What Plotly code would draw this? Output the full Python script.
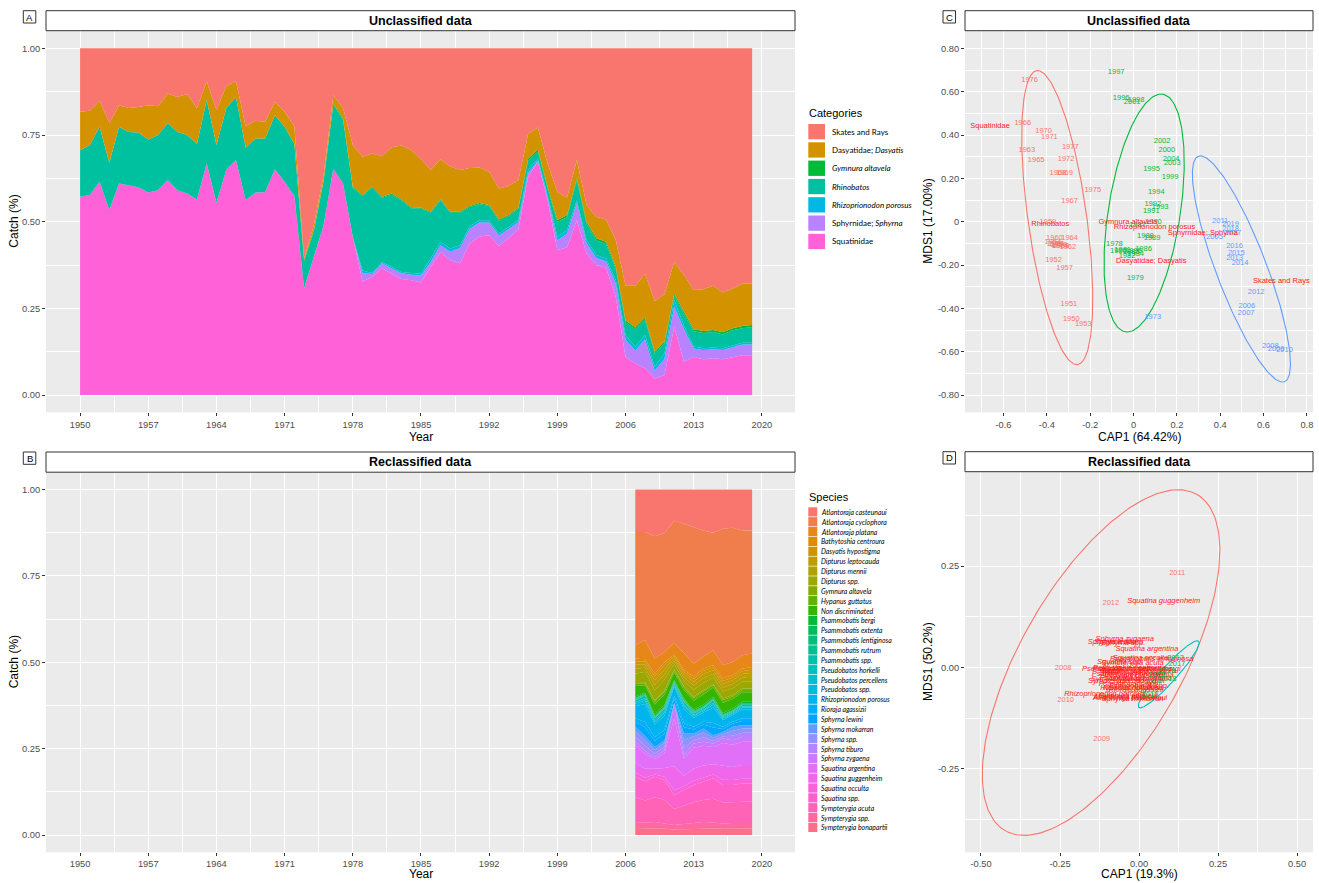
import math
import numpy as np
import plotly.graph_objects as go

W, H = 1319, 883
FONT = "Liberation Sans, Arial, Helvetica, sans-serif"
LEGFONT = "Lato, Liberation Sans, Arial, sans-serif"

# ---------------- Panel A : unclassified data (share of catch) ----------------
years_a = list(range(1950, 2020))
cat_names = ["Skates and Rays", "Dasyatidae; Dasyatis", "Gymnura altavela", "Rhinobatos",
             "Rhizoprionodon porosus", "Sphyrnidae; Sphyrna", "Squatinidae"]
cat_labels = ["Skates and Rays", "Dasyatidae; <i>Dasyatis</i>", "<i>Gymnura altavela</i>",
              "<i>Rhinobatos</i>", "<i>Rhizoprionodon porosus</i>", "Sphyrnidae; <i>Sphyrna</i>",
              "Squatinidae"]
skates_rays = [0.183, 0.180, 0.152, 0.215, 0.164, 0.172, 0.169, 0.164, 0.167, 0.130,
               0.140, 0.132, 0.173, 0.096, 0.178, 0.109, 0.095, 0.225, 0.209, 0.212,
               0.154, 0.183, 0.225, 0.606, 0.510, 0.366, 0.135, 0.173, 0.279, 0.313,
               0.303, 0.311, 0.285, 0.280, 0.293, 0.320, 0.351, 0.320, 0.341, 0.351,
               0.345, 0.344, 0.356, 0.404, 0.397, 0.380, 0.247, 0.228, 0.332, 0.414,
               0.430, 0.322, 0.452, 0.486, 0.494, 0.553, 0.685, 0.685, 0.651, 0.729,
               0.709, 0.616, 0.654, 0.697, 0.695, 0.685, 0.704, 0.693, 0.678, 0.678]
dasyatidae = [0.111, 0.099, 0.074, 0.115, 0.062, 0.069, 0.074, 0.099, 0.083, 0.085,
              0.101, 0.118, 0.103, 0.053, 0.101, 0.064, 0.045, 0.061, 0.051, 0.048,
              0.039, 0.043, 0.051, 0.004, 0.014, 0.014, 0.024, 0.029, 0.120, 0.110,
              0.096, 0.117, 0.134, 0.156, 0.165, 0.140, 0.120, 0.115, 0.130, 0.120,
              0.110, 0.102, 0.096, 0.090, 0.084, 0.079, 0.071, 0.064, 0.067, 0.081,
              0.051, 0.053, 0.048, 0.062, 0.064, 0.077, 0.099, 0.120, 0.125, 0.146,
              0.137, 0.091, 0.106, 0.113, 0.120, 0.127, 0.115, 0.114, 0.123, 0.120]
gymnura_a = [0, 0, 0, 0, 0, 0, 0, 0, 0, 0,
             0, 0, 0, 0, 0, 0, 0, 0, 0, 0,
             0, 0, 0, 0.004, 0.004, 0.004, 0.004, 0.004, 0.003, 0.003,
             0.003, 0.003, 0.003, 0.003, 0.003, 0.003, 0.003, 0.003, 0.003, 0.003,
             0.003, 0.003, 0.003, 0.003, 0.003, 0.003, 0.006, 0.006, 0.006, 0.006,
             0.006, 0.006, 0.006, 0.006, 0.006, 0.006, 0.006, 0.006, 0.006, 0.006,
             0.006, 0.006, 0.006, 0.006, 0.006, 0.006, 0.006, 0.006, 0.006, 0.006]
rhinobatos = [0.134, 0.144, 0.159, 0.136, 0.164, 0.155, 0.158, 0.153, 0.159, 0.165,
              0.168, 0.169, 0.160, 0.183, 0.167, 0.178, 0.182, 0.152, 0.156, 0.155,
              0.156, 0.159, 0.150, 0.078, 0.073, 0.126, 0.184, 0.184, 0.142, 0.215,
              0.246, 0.185, 0.209, 0.206, 0.187, 0.187, 0.132, 0.120, 0.103, 0.094,
              0.055, 0.047, 0.041, 0.037, 0.031, 0.032, 0.027, 0.020, 0.018, 0.042,
              0.037, 0.057, 0.047, 0.042, 0.042, 0.032, 0.037, 0.049, 0.045, 0.037,
              0.028, 0.013, 0.034, 0.044, 0.044, 0.045, 0.040, 0.043, 0.042, 0.045]
rhizoprionodon = [0, 0, 0, 0, 0, 0, 0, 0, 0, 0,
                  0, 0, 0, 0, 0, 0, 0, 0, 0, 0,
                  0, 0, 0, 0, 0, 0, 0, 0, 0, 0.008,
                  0.003, 0.004, 0.004, 0.004, 0.005, 0.005, 0.010, 0.010, 0.010, 0.008,
                  0.007, 0.006, 0.006, 0.006, 0.007, 0.007, 0.009, 0.006, 0.007, 0.011,
                  0.011, 0.008, 0.009, 0.009, 0.008, 0.010, 0.013, 0.012, 0.013, 0.012,
                  0.015, 0.019, 0.010, 0.006, 0.005, 0.005, 0.005, 0.005, 0.005, 0.005]
sphyrnidae = [0, 0, 0, 0, 0, 0, 0, 0, 0, 0,
              0, 0, 0, 0, 0, 0, 0, 0, 0, 0,
              0, 0, 0, 0, 0, 0, 0, 0, 0, 0.024,
              0.008, 0.015, 0.015, 0.016, 0.016, 0.020, 0.014, 0.021, 0.024, 0.044,
              0.043, 0.041, 0.037, 0.030, 0.026, 0.021, 0.010, 0.003, 0.008, 0.028,
              0.039, 0.049, 0.030, 0.020, 0.019, 0.039, 0.050, 0.037, 0.083, 0.022,
              0.048, 0.058, 0.094, 0.024, 0.027, 0.026, 0.027, 0.029, 0.031, 0.031]
squatinidae = [0.572, 0.577, 0.615, 0.534, 0.610, 0.604, 0.599, 0.584, 0.591, 0.620,
               0.591, 0.581, 0.564, 0.668, 0.554, 0.649, 0.678, 0.562, 0.584, 0.585,
               0.651, 0.615, 0.574, 0.308, 0.399, 0.490, 0.653, 0.610, 0.456, 0.327,
               0.341, 0.365, 0.350, 0.335, 0.331, 0.325, 0.370, 0.411, 0.389, 0.380,
               0.437, 0.457, 0.461, 0.430, 0.452, 0.478, 0.630, 0.673, 0.562, 0.418,
               0.426, 0.505, 0.408, 0.375, 0.367, 0.283, 0.110, 0.091, 0.077, 0.048,
               0.057, 0.197, 0.096, 0.110, 0.103, 0.106, 0.103, 0.110, 0.115, 0.115]

# ---------------- Panel B : reclassified data (share of catch) ----------------
years_b = list(range(2007, 2020))
species = ["Atlantoraja casteunaui", "Atlantoraja cyclophora", "Atlantoraja platana",
           "Bathytoshia centroura", "Dasyatis hypostigma", "Dipturus leptocauda",
           "Dipturus mennii", "Dipturus spp.", "Gymnura altavela", "Hypanus guttatus",
           "Non discriminated", "Psammobatis bergi", "Psammobatis extenta",
           "Psammobatis lentiginosa", "Psammobatis rutrum", "Psammobatis spp.",
           "Pseudobatos horkelli", "Pseudobatos percellens", "Pseudobatos spp.",
           "Rhizoprionodon porosus", "Rioraja agassizii", "Sphyrna lewini",
           "Sphyrna mokarran", "Sphyrna spp.", "Sphyrna tiburo", "Sphyrna zygaena",
           "Squatina argentina", "Squatina guggenheim", "Squatina occulta",
           "Squatina spp.", "Sympterygia acuta", "Sympterygia spp.", "Sympterygia bonapartii"]
atl_casteunaui = [0.123, 0.122, 0.135, 0.126, 0.090, 0.099, 0.109, 0.119, 0.125, 0.114, 0.111, 0.119, 0.119]
atl_cyclophora = [0.328, 0.310, 0.354, 0.344, 0.356, 0.376, 0.395, 0.365, 0.340, 0.395, 0.388, 0.361, 0.356]
atl_platana = [0.038, 0.055, 0.044, 0.029, 0.034, 0.048, 0.038, 0.034, 0.044, 0.038, 0.038, 0.038, 0.039]
bat_centroura = [0.008, 0.006, 0.008, 0.009, 0.005, 0.006, 0.007, 0.007, 0.006, 0.007, 0.007, 0.007, 0.008]
das_hypostigma = [0.010, 0.008, 0.011, 0.012, 0.006, 0.007, 0.008, 0.009, 0.008, 0.008, 0.008, 0.008, 0.009]
dip_leptocauda = [0.012, 0.010, 0.014, 0.015, 0.008, 0.009, 0.011, 0.012, 0.010, 0.011, 0.011, 0.011, 0.011]
dip_mennii = [0.014, 0.012, 0.016, 0.016, 0.009, 0.010, 0.012, 0.013, 0.011, 0.012, 0.012, 0.012, 0.013]
dip_spp = [0.024, 0.030, 0.028, 0.030, 0.015, 0.016, 0.020, 0.022, 0.018, 0.020, 0.020, 0.020, 0.021]
gym_altavela = [0.004, 0.003, 0.004, 0.004, 0.003, 0.003, 0.004, 0.004, 0.004, 0.004, 0.004, 0.004, 0.004]
hyp_guttatus = [0.008, 0.006, 0.008, 0.008, 0.006, 0.007, 0.007, 0.008, 0.007, 0.008, 0.007, 0.007, 0.007]
non_discriminated = [0.030, 0.021, 0.030, 0.030, 0.022, 0.025, 0.027, 0.030, 0.027, 0.030, 0.028, 0.027, 0.027]
psa_bergi = [0.004, 0.003, 0.004, 0.004, 0.003, 0.003, 0.004, 0.004, 0.004, 0.004, 0.004, 0.004, 0.004]
psa_extenta = [0.002, 0.001, 0.002, 0.002, 0.001, 0.002, 0.002, 0.002, 0.002, 0.002, 0.002, 0.002, 0.002]
psa_lentiginosa = [0.002, 0.001, 0.002, 0.002, 0.001, 0.002, 0.002, 0.002, 0.002, 0.002, 0.001, 0.001, 0.001]
psa_rutrum = [0.002, 0.002, 0.002, 0.002, 0.002, 0.002, 0.002, 0.002, 0.001, 0.002, 0.002, 0.002, 0.002]
psa_spp = [0.001, 0.001, 0.001, 0.001, 0.001, 0.001, 0.001, 0.001, 0.001, 0.001, 0.001, 0.001, 0.001]
pse_horkelli = [0.006, 0.008, 0.006, 0.007, 0.004, 0.007, 0.004, 0.004, 0.007, 0.003, 0.003, 0.004, 0.004]
pse_percellens = [0.004, 0.006, 0.004, 0.005, 0.003, 0.005, 0.003, 0.003, 0.005, 0.002, 0.002, 0.003, 0.003]
pse_spp = [0.007, 0.010, 0.007, 0.008, 0.005, 0.008, 0.005, 0.005, 0.009, 0.004, 0.004, 0.005, 0.005]
rhi_porosus = [0.035, 0.052, 0.037, 0.041, 0.026, 0.041, 0.026, 0.026, 0.045, 0.020, 0.019, 0.026, 0.026]
rio_agassizii = [0.010, 0.015, 0.011, 0.012, 0.008, 0.012, 0.008, 0.008, 0.013, 0.006, 0.006, 0.008, 0.008]
sph_lewini = [0.015, 0.025, 0.017, 0.019, 0.012, 0.018, 0.012, 0.012, 0.022, 0.009, 0.009, 0.012, 0.012]
sph_mokarran = [0.012, 0.012, 0.008, 0.008, 0.002, 0.018, 0.008, 0.011, 0.007, 0.005, 0.011, 0.010, 0.010]
sph_spp = [0.016, 0.016, 0.011, 0.011, 0.002, 0.024, 0.011, 0.014, 0.009, 0.007, 0.015, 0.012, 0.012]
sph_tiburo = [0.015, 0.015, 0.010, 0.010, 0.001, 0.021, 0.010, 0.013, 0.008, 0.007, 0.013, 0.012, 0.012]
sph_zygaena = [0.010, 0.008, 0.006, 0.008, 0.040, 0.010, 0.012, 0.012, 0.010, 0.013, 0.013, 0.014, 0.014]
squ_argentina = [0.050, 0.043, 0.028, 0.043, 0.140, 0.050, 0.060, 0.057, 0.050, 0.066, 0.064, 0.067, 0.067]
squ_guggenheim = [0.030, 0.026, 0.017, 0.025, 0.070, 0.030, 0.036, 0.035, 0.030, 0.040, 0.038, 0.040, 0.040]
squ_occulta = [0.011, 0.010, 0.006, 0.010, 0.014, 0.011, 0.012, 0.012, 0.011, 0.015, 0.014, 0.014, 0.014]
squ_spp = [0.060, 0.055, 0.060, 0.058, 0.040, 0.045, 0.050, 0.053, 0.059, 0.051, 0.050, 0.052, 0.052]
sym_acuta = [0.071, 0.064, 0.071, 0.068, 0.047, 0.053, 0.060, 0.063, 0.069, 0.061, 0.060, 0.062, 0.062]
sym_spp = [0.018, 0.016, 0.018, 0.015, 0.013, 0.015, 0.016, 0.018, 0.017, 0.015, 0.016, 0.016, 0.016]
sym_bonapartii = [0.020, 0.019, 0.020, 0.018, 0.016, 0.017, 0.019, 0.020, 0.019, 0.018, 0.019, 0.019, 0.019]
series_b = [atl_casteunaui, atl_cyclophora, atl_platana, bat_centroura, das_hypostigma,
            dip_leptocauda, dip_mennii, dip_spp, gym_altavela, hyp_guttatus, non_discriminated,
            psa_bergi, psa_extenta, psa_lentiginosa, psa_rutrum, psa_spp, pse_horkelli,
            pse_percellens, pse_spp, rhi_porosus, rio_agassizii, sph_lewini, sph_mokarran,
            sph_spp, sph_tiburo, sph_zygaena, squ_argentina, squ_guggenheim, squ_occulta,
            squ_spp, sym_acuta, sym_spp, sym_bonapartii]

# ---------------- Panel C : CAP ordination, unclassified ----------------
c_g1_years = [1976, 1966, 1970, 1971, 1963, 1977, 1965, 1972, 1968, 1969, 1967, 1975, 1959,
              1960, 1964, 1954, 1955, 1956, 1958, 1961, 1962, 1974, 1952, 1957, 1951, 1950, 1953]
c_g1_x = [-0.480, -0.511, -0.415, -0.388, -0.492, -0.292, -0.449, -0.311, -0.349, -0.318, -0.295,
          -0.188, -0.395, -0.365, -0.295, -0.372, -0.362, -0.345, -0.335, -0.355, -0.303, -0.340,
          -0.369, -0.318, -0.298, -0.287, -0.232]
c_g1_y = [0.654, 0.454, 0.420, 0.389, 0.331, 0.346, 0.285, 0.289, 0.226, 0.226, 0.097, 0.146, 0.000,
          -0.077, -0.077, -0.095, -0.102, -0.110, -0.115, -0.105, -0.118, -0.112, -0.177, -0.212,
          -0.380, -0.449, -0.472]
c_g2_years = [1997, 1996, 1998, 2001, 2002, 2000, 2004, 2003, 1995, 1999, 1994, 1992, 1993, 1991,
              1990, 1987, 1988, 1989, 1978, 1986, 1980, 1981, 1982, 1983, 1984, 1985, 1979]
c_g2_x = [-0.080, -0.057, 0.012, -0.006, 0.132, 0.154, 0.174, 0.179, 0.083, 0.169, 0.105, 0.089,
          0.123, 0.082, 0.092, 0.018, 0.055, 0.086, -0.088, 0.046, -0.070, -0.050, -0.030, -0.010,
          0.010, 0.000, 0.008]
c_g2_y = [0.692, 0.569, 0.562, 0.554, 0.374, 0.328, 0.289, 0.270, 0.243, 0.205, 0.136, 0.082,
          0.066, 0.049, -0.003, -0.015, -0.065, -0.077, -0.103, -0.126, -0.135, -0.130, -0.160,
          -0.140, -0.150, -0.135, -0.261]
c_g3_years = [2011, 2019, 2018, 2017, 2005, 2016, 2015, 2013, 2014, 2012, 2006, 2007, 1973,
              2008, 2009, 2010]
c_g3_x = [0.400, 0.448, 0.448, 0.458, 0.374, 0.466, 0.474, 0.466, 0.492, 0.566, 0.523, 0.520,
          0.089, 0.631, 0.658, 0.697]
c_g3_y = [0.003, -0.012, -0.035, -0.054, -0.069, -0.111, -0.143, -0.169, -0.189, -0.323, -0.389,
          -0.420, -0.441, -0.572, -0.587, -0.592]
c_vec_names = ["Squatinidae", "Rhinobatos", "Gymnura altavela", "Rhizoprionodon porosus",
               "Sphyrnidae; Sphyrna", "Dasyatidae; Dasyatis", "Skates and Rays"]
c_vec_x = [-0.662, -0.384, -0.026, 0.097, 0.320, 0.082, 0.682]
c_vec_y = [0.442, -0.011, -0.003, -0.026, -0.054, -0.181, -0.272]
# ellipses: centre x, centre y, semi-major, semi-minor, angle (deg)
c_ell_cx = [-0.352, 0.049, 0.498]
c_ell_cy = [0.019, 0.040, -0.218]
c_ell_a = [0.685, 0.555, 0.557]
c_ell_b = [0.1355, 0.166, 0.116]
c_ell_ang = [97.9, 81.1, 110.9]

# ---------------- Panel D : CAP ordination, reclassified ----------------
d_g1_years = [2011, 2012, 2008, 2010, 2009, 2007]
d_g1_x = [0.121, -0.089, -0.240, -0.232, -0.118, -0.030]
d_g1_y = [0.232, 0.159, -0.002, -0.080, -0.178, -0.010]
d_g2_years = [2013, 2017, 2019, 2018, 2016, 2014, 2015]
d_g2_x = [0.116, 0.120, 0.088, 0.092, 0.056, 0.043, 0.035]
d_g2_y = [0.023, 0.007, -0.010, -0.030, -0.020, -0.037, -0.069]
d_sp_x = [-0.028, 0.000, -0.045, -0.030, 0.000, -0.020, 0.000, -0.050, -0.035, -0.030, -0.020,
          0.030, -0.010, 0.040, -0.040, -0.030, -0.070, -0.020, 0.000, -0.108, -0.010, -0.085,
          -0.020, -0.050, -0.065, -0.045, 0.025, 0.078, 0.005, -0.060, -0.020, -0.060, -0.040]
d_sp_y = [-0.076, -0.008, -0.074, -0.002, -0.020, -0.014, -0.030, -0.008, -0.072, -0.052, -0.050,
          -0.004, -0.026, 0.020, -0.016, -0.042, -0.003, -0.005, -0.045, -0.066, -0.055, 0.062,
          -0.078, 0.060, 0.062, 0.071, 0.045, 0.163, 0.022, 0.012, 0.010, -0.030, -0.034]
d_ell_cx = [-0.120, 0.094]
d_ell_cy = [0.012, -0.017]
d_ell_a = [0.517, 0.125]
d_ell_b = [0.236, 0.022]
d_ell_ang = [50.5, 40.4]

# ---------------- styling helpers ----------------
def hcl_hex(h, c=100.0, l=65.0):
    hr = math.radians(h)
    U, V = c * math.cos(hr), c * math.sin(hr)
    Xn, Yn, Zn = 95.047, 100.0, 108.883
    Y = Yn * ((l + 16) / 116) ** 3 if l > 8 else Yn * l / 903.3
    t = Xn + 15 * Yn + 3 * Zn
    un, vn = 4 * Xn / t, 9 * Yn / t
    u, v = U / (13 * l) + un, V / (13 * l) + vn
    X = 9.0 * Y * u / (4 * v)
    Z = -X / 3 - 5 * Y + 3 * Y / v
    X, Y, Z = X / 100, Y / 100, Z / 100
    r = 3.240479 * X - 1.537150 * Y - 0.498535 * Z
    g = -0.969256 * X + 1.875992 * Y + 0.041556 * Z
    b = 0.055648 * X - 0.204043 * Y + 1.057311 * Z

    def gam(x):
        x = 1.055 * x ** (1 / 2.4) - 0.055 if x > 0.0031308 else 12.92 * x
        return int(min(255, max(0, round(x * 255))))
    return "#%02X%02X%02X" % (gam(r), gam(g), gam(b))


n_sp = len(species)
colors_b = [hcl_hex(15 + 360.0 * i / n_sp) for i in range(n_sp)]
colors_a = ["#F8766D", "#D39200", "#00BA38", "#00C19F", "#00B9E3", "#B983FF", "#FF61D8"]
series_a = [skates_rays, dasyatidae, gymnura_a, rhinobatos, rhizoprionodon, sphyrnidae, squatinidae]


def X(px):
    return px / W


def Y(py):
    return 1 - py / H


def ellipse(cx, cy, a, b, ang):
    t = np.linspace(0, 2 * np.pi, 240)
    th = math.radians(ang)
    ex = cx + a * np.cos(t) * math.cos(th) - b * np.sin(t) * math.sin(th)
    ey = cy + a * np.cos(t) * math.sin(th) + b * np.sin(t) * math.cos(th)
    return ex, ey


fig = go.Figure()

# Panel A areas (bottom first)
for name, vals, col in reversed(list(zip(cat_names, series_a, colors_a))):
    fig.add_trace(go.Scatter(x=years_a, y=vals, name=name, stackgroup="a", groupnorm="fraction",
                             mode="lines", line=dict(width=0, color=col), fillcolor=col,
                             xaxis="x", yaxis="y", hoverinfo="skip"))
# Panel B areas
for name, vals, col in reversed(list(zip(species, series_b, colors_b))):
    fig.add_trace(go.Scatter(x=years_b, y=vals, name=name, stackgroup="b", groupnorm="fraction",
                             mode="lines", line=dict(width=0, color=col), fillcolor=col,
                             xaxis="x2", yaxis="y2", hoverinfo="skip"))

# Panel C
c_cols = ["#F8766D", "#00BA38", "#619CFF"]
for cx, cy, a, b, ang, col in zip(c_ell_cx, c_ell_cy, c_ell_a, c_ell_b, c_ell_ang, c_cols):
    ex, ey = ellipse(cx, cy, a, b, ang)
    fig.add_trace(go.Scatter(x=ex, y=ey, mode="lines", line=dict(color=col, width=1.1),
                             xaxis="x3", yaxis="y3", hoverinfo="skip"))
for yrs, xs, ys, col in [(c_g1_years, c_g1_x, c_g1_y, c_cols[0]),
                         (c_g2_years, c_g2_x, c_g2_y, c_cols[1]),
                         (c_g3_years, c_g3_x, c_g3_y, c_cols[2])]:
    fig.add_trace(go.Scatter(x=xs, y=ys, mode="text", text=[str(v) for v in yrs],
                             textfont=dict(size=7.5, color=col, family=FONT),
                             xaxis="x3", yaxis="y3", hoverinfo="skip"))
fig.add_trace(go.Scatter(x=c_vec_x, y=c_vec_y, mode="text", text=c_vec_names,
                         textfont=dict(size=7.5, color="#FF1A1A", family=FONT),
                         xaxis="x3", yaxis="y3", hoverinfo="skip"))

# Panel D
d_cols = ["#F8766D", "#00BFC4"]
for cx, cy, a, b, ang, col in zip(d_ell_cx, d_ell_cy, d_ell_a, d_ell_b, d_ell_ang, d_cols):
    ex, ey = ellipse(cx, cy, a, b, ang)
    fig.add_trace(go.Scatter(x=ex, y=ey, mode="lines", line=dict(color=col, width=1.1),
                             xaxis="x4", yaxis="y4", hoverinfo="skip"))
fig.add_trace(go.Scatter(x=d_sp_x, y=d_sp_y, mode="text", text=["<i>%s</i>" % s for s in species],
                         textfont=dict(size=7.5, color="#FF1A1A", family=FONT),
                         xaxis="x4", yaxis="y4", hoverinfo="skip"))
fig.add_trace(go.Scatter(x=d_g1_x, y=d_g1_y, mode="text", text=[str(v) for v in d_g1_years],
                         textfont=dict(size=7.5, color="#F8766D", family=FONT),
                         xaxis="x4", yaxis="y4", hoverinfo="skip"))
fig.add_trace(go.Scatter(x=d_g2_x, y=d_g2_y, mode="text", text=[str(v) for v in d_g2_years],
                         textfont=dict(size=7.5, color="#00BA38", family=FONT),
                         xaxis="x4", yaxis="y4", hoverinfo="skip"))

# ---------------- axes ----------------
tickfont = dict(size=9.3, color="#4D4D4D", family=FONT)
common = dict(showgrid=True, gridcolor="white", gridwidth=1.1, zeroline=False, showline=False,
              ticks="outside", ticklen=3, tickwidth=1, tickcolor="#333333", tickfont=tickfont)
minor_style = dict(showgrid=True, gridcolor="white", gridwidth=0.5)

# panel pixel boxes (left, top, right, bottom)
PA = (46, 31, 795, 412.4)
PB = (46, 472.2, 795, 852.3)
PC = (965, 31, 1313, 412.4)
PD = (965, 472, 1313, 852.3)

year_ticks = list(range(1950, 2021, 7))
for ax, box, anc in [("xaxis", PA, "y"), ("xaxis2", PB, "y2")]:
    fig.layout[ax] = dict(common, domain=[X(box[0]), X(box[2])], range=[1946.5, 2023.4], anchor=anc,
                          tickmode="array", tickvals=year_ticks, ticktext=[str(v) for v in year_ticks],
                          minor=dict(minor_style, tickmode="linear", tick0=1946.5, dtick=7))
frac_ticks = [0, 0.25, 0.5, 0.75, 1.0]
frac_text = ["0.00", "0.25", "0.50", "0.75", "1.00"]
fig.layout.yaxis = dict(common, domain=[Y(PA[3]), Y(PA[1])], range=[-0.05, 1.05], anchor="x",
                        tickmode="array", tickvals=frac_ticks, ticktext=frac_text,
                        minor=dict(minor_style, tickmode="linear", tick0=0.125, dtick=0.25))
fig.layout.yaxis2 = dict(common, domain=[Y(PB[3]), Y(PB[1])], range=[-0.05, 1.05], anchor="x2",
                         tickmode="array", tickvals=frac_ticks, ticktext=frac_text,
                         minor=dict(minor_style, tickmode="linear", tick0=0.125, dtick=0.25))

cx_ticks = [-0.6, -0.4, -0.2, 0, 0.2, 0.4, 0.6, 0.8]
fig.layout.xaxis3 = dict(common, domain=[X(PC[0]), X(PC[2])], range=[-0.7776, 0.8283], anchor="y3",
                         tickmode="array", tickvals=cx_ticks,
                         ticktext=["-0.6", "-0.4", "-0.2", "0", "0.2", "0.4", "0.6", "0.8"],
                         minor=dict(minor_style, tickmode="linear", tick0=-0.7, dtick=0.2))
cy_ticks = [-0.8, -0.6, -0.4, -0.2, 0, 0.2, 0.4, 0.6, 0.8]
fig.layout.yaxis3 = dict(common, domain=[Y(PC[3]), Y(PC[1])], range=[-0.88, 0.88], anchor="x3",
                         tickmode="array", tickvals=cy_ticks,
                         ticktext=["-0.80", "-0.60", "-0.40", "-0.20", "0", "0.20", "0.40", "0.60", "0.80"],
                         minor=dict(minor_style, tickmode="linear", tick0=-0.9, dtick=0.2))
dx_ticks = [-0.5, -0.25, 0, 0.25, 0.5]
fig.layout.xaxis4 = dict(common, domain=[X(PD[0]), X(PD[2])], range=[-0.5506, 0.5506], anchor="y4",
                         tickmode="array", tickvals=dx_ticks,
                         ticktext=["-0.50", "-0.25", "0.00", "0.25", "0.50"],
                         minor=dict(minor_style, tickmode="linear", tick0=-0.375, dtick=0.25))
dy_ticks = [-0.25, 0, 0.25]
fig.layout.yaxis4 = dict(common, domain=[Y(PD[3]), Y(PD[1])], range=[-0.456, 0.482], anchor="x4",
                         tickmode="array", tickvals=dy_ticks, ticktext=["-0.25", "0.00", "0.25"],
                         minor=dict(minor_style, tickmode="linear", tick0=-0.375, dtick=0.25))

# ---------------- decorations: strips, tags, titles, legends ----------------
shapes = []
annotations = []


def rect(x0, y0, x1, y1, fill="white", line="#333333", lw=1):
    shapes.append(dict(type="rect", xref="paper", yref="paper", x0=X(x0), x1=X(x1), y0=Y(y1), y1=Y(y0),
                       fillcolor=fill, line=dict(color=line, width=lw), layer="above"))


def text(x, y, s, size=11, color="black", xanchor="center", angle=0, bold=False, family=FONT):
    annotations.append(dict(xref="paper", yref="paper", x=X(x), y=Y(y), text=("<b>%s</b>" % s) if bold else s,
                            showarrow=False, xanchor=xanchor, yanchor="middle", textangle=angle,
                            font=dict(size=size, color=color, family=family)))


strips = [(46, 10.7, 795, 30.7, "Unclassified data"), (46, 452, 795, 472.2, "Reclassified data"),
          (965, 10.7, 1313, 30.7, "Unclassified data"), (965, 451.7, 1313, 471.7, "Reclassified data")]
for x0, y0, x1, y1, s in strips:
    rect(x0, y0, x1, y1)
    text((x0 + x1) / 2, (y0 + y1) / 2, s, size=12.5, bold=True)

tags = [(23.3, 10.7, "A"), (23.3, 452, "B"), (943, 10.7, "C"), (943, 451.7, "D")]
for x0, y0, s in tags:
    rect(x0, y0, x0 + 12.5, y0 + 12.3, lw=1)
    text(x0 + 6.25, y0 + 6.3, s, size=9.5)

# axis titles
text(420.5, 437, "Year", size=12)
text(420.5, 874, "Year", size=12)
text(14, 221.7, "Catch (%)", size=12, angle=-90)
text(14, 662.3, "Catch (%)", size=12, angle=-90)
text(1139, 437, "CAP1 (64.42%)", size=12)
text(1139, 874, "CAP1 (19.3%)", size=12)
text(928, 221.7, "MDS1 (17.00%)", size=12, angle=-90)
text(928, 662, "MDS1 (50.2%)", size=12, angle=-90)

# legend A
text(807, 113, "Categories", size=11, xanchor="left")
for i, (lab, col) in enumerate(zip(cat_labels, colors_a)):
    y0 = 124.0 + i * 18.3
    rect(808.3, y0, 825, y0 + 15.3, fill=col, line=col, lw=0)
    text(830, y0 + 7.65, lab, size=8, xanchor="left", family=LEGFONT)

# legend B
text(807, 496.7, "Species", size=11, xanchor="left")
for i, (lab, col) in enumerate(zip(species, colors_b)):
    y0 = 507.3 + i * 9.86
    rect(808.3, y0, 817.3, y0 + 9.2, fill=col, line=col, lw=0)
    text(818.5, y0 + 4.6, "<i>%s</i>" % lab, size=6.9, xanchor="left", family=LEGFONT)

fig.update_layout(width=W, height=H, margin=dict(l=0, r=0, t=0, b=0), showlegend=False,
                  paper_bgcolor="white", plot_bgcolor="#EBEBEB", shapes=shapes,
                  annotations=annotations, font=dict(family=FONT))

fig.write_html("out.html", config={"displayModeBar": False},
               post_script="document.body.style.margin='0';document.body.style.overflow='hidden';")
